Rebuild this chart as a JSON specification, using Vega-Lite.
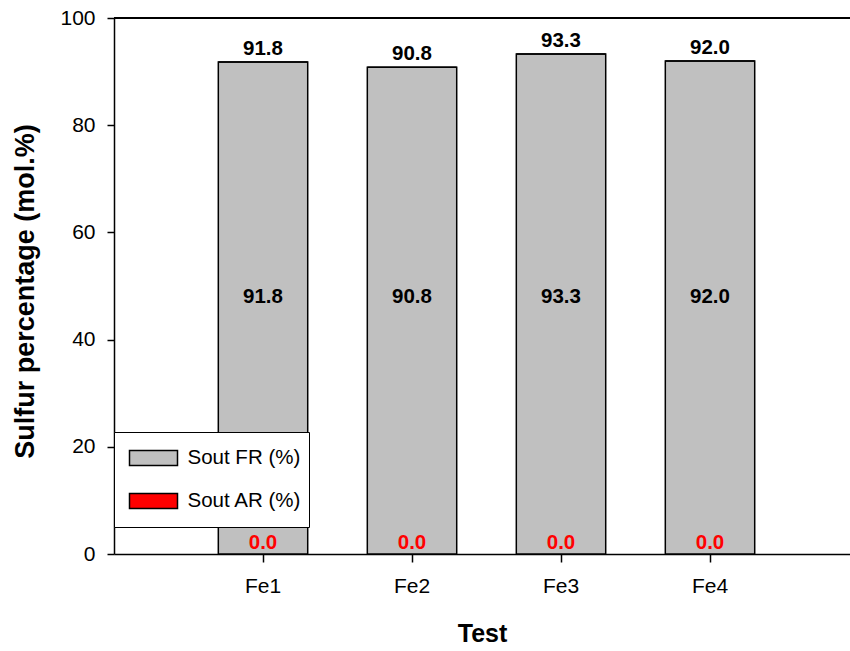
{
  "$schema": "https://vega.github.io/schema/vega-lite/v6.json",
  "autosize": "none",
  "width": 736,
  "height": 536,
  "padding": {"top": 18, "left": 114, "right": 0, "bottom": 97},
  "background": "white",
  "config": {
    "view": {"stroke": null},
    "font": "Liberation Sans",
    "axis": {"domainColor": "black", "domainWidth": 1.5, "tickColor": "black", "tickWidth": 1.5, "labelColor": "black", "titleColor": "black", "grid": false}
  },
  "data": {
    "values": [
      {"test": "Fe1", "series": "Sout FR (%)", "value": 91.8},
      {"test": "Fe1", "series": "Sout AR (%)", "value": 0.0},
      {"test": "Fe2", "series": "Sout FR (%)", "value": 90.8},
      {"test": "Fe2", "series": "Sout AR (%)", "value": 0.0},
      {"test": "Fe3", "series": "Sout FR (%)", "value": 93.3},
      {"test": "Fe3", "series": "Sout AR (%)", "value": 0.0},
      {"test": "Fe4", "series": "Sout FR (%)", "value": 92.0},
      {"test": "Fe4", "series": "Sout AR (%)", "value": 0.0}
    ]
  },
  "encoding": {
    "x": {
      "field": "test",
      "type": "nominal",
      "sort": ["Fe1", "Fe2", "Fe3", "Fe4"],
      "scale": {"paddingInner": 0.4, "paddingOuter": 0.6698, "align": 0.5226, "round": false},
      "axis": {"labelAngle": 0, "labelFontSize": 21, "tickSize": 8, "labelPadding": 13, "title": "Test", "titleFontSize": 25, "titleFontWeight": "bold", "titlePadding": 25}
    }
  },
  "layer": [
    {
      "mark": {"type": "bar", "stroke": "black", "strokeWidth": 1.5},
      "encoding": {
        "y": {
          "field": "value",
          "type": "quantitative",
          "stack": "zero",
          "scale": {"domain": [0, 100], "nice": false},
          "axis": {"values": [0, 20, 40, 60, 80, 100], "labelFontSize": 21, "tickSize": 7, "labelPadding": 12, "title": "Sulfur percentage (mol.%)", "titleFontSize": 27, "titleFontWeight": "bold", "titlePadding": 20, "titleY": 273}
        },
        "color": {
          "field": "series",
          "type": "nominal",
          "sort": ["Sout FR (%)", "Sout AR (%)"],
          "scale": {"domain": ["Sout FR (%)", "Sout AR (%)"], "range": ["#c0c0c0", "#ff0000"]},
          "legend": {
            "orient": "none",
            "legendX": 0,
            "legendY": 414,
            "direction": "vertical",
            "title": null,
            "fillColor": "white",
            "strokeColor": "black",
            "padding": 7,
            "symbolType": "M-3,-0.9375H3V0.9375H-3Z",
            "symbolSize": 256,
            "clipHeight": 38,
            "symbolStrokeColor": "black",
            "symbolStrokeWidth": 1.5,
            "symbolOffset": 22.25,
            "labelOffset": 23.75,
            "labelFontSize": 20.5,
            "labelColor": "black",
            "rowPadding": 5
          }
        },
        "order": {"field": "series", "sort": "descending"}
      }
    },
    {
      "transform": [{"filter": "datum.series === 'Sout FR (%)'"}],
      "mark": {"type": "text", "fontSize": 20.5, "fontWeight": "bold", "color": "black", "baseline": "alphabetic", "dy": -7},
      "encoding": {
        "y": {"field": "value", "type": "quantitative"},
        "text": {"field": "value", "type": "quantitative", "format": ".1f"}
      }
    },
    {
      "transform": [{"filter": "datum.series === 'Sout FR (%)'"}],
      "mark": {"type": "text", "fontSize": 20.5, "fontWeight": "bold", "color": "black", "baseline": "middle"},
      "encoding": {
        "y": {"datum": 48, "type": "quantitative"},
        "text": {"field": "value", "type": "quantitative", "format": ".1f"}
      }
    },
    {
      "transform": [{"filter": "datum.series === 'Sout AR (%)'"}],
      "mark": {"type": "text", "fontSize": 20.5, "fontWeight": "bold", "color": "#ff0000", "baseline": "middle", "dy": -11},
      "encoding": {
        "y": {"datum": 0, "type": "quantitative"},
        "text": {"field": "value", "type": "quantitative", "format": ".1f"}
      }
    },
    {
      "mark": {"type": "rule", "color": "black", "strokeWidth": 1.5},
      "encoding": {"y": {"datum": 100, "type": "quantitative"}, "x": null}
    }
  ]
}
